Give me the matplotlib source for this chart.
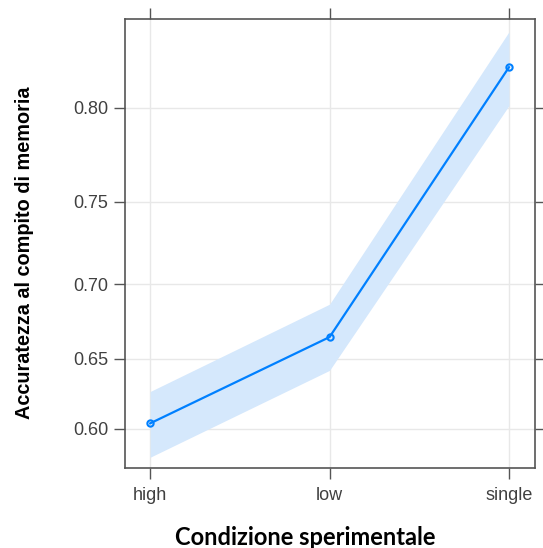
import matplotlib
matplotlib.use("Agg")
import matplotlib.pyplot as plt
from matplotlib.ticker import FixedLocator, FixedFormatter, NullLocator

conditions = ["high", "low", "single"]
accuracy = [0.604, 0.665, 0.819]
lower = [0.579, 0.642, 0.801]
upper = [0.627, 0.687, 0.8345]
yticks = [0.60, 0.65, 0.70, 0.75, 0.80]
ytick_labels = ["0.60", "0.65", "0.70", "0.75", "0.80"]

line_col = "#0080ff"
frame_col = "#555555"
text_col = "#404040"

fig = plt.figure(figsize=(5.43, 5.48), dpi=100)
ax = fig.add_axes([0.2302, 0.146, 0.7551, 0.8193])

x = list(range(len(conditions)))
ax.fill_between(x, lower, upper, color="#d5e8fc", linewidth=0, zorder=1)
ax.plot(x, accuracy, color=line_col, lw=1.6, marker="o", ms=4.5, mfc="none",
        mec=line_col, mew=1.5, zorder=3)

ax.set_yscale("logit")
ax.set_ylim(0.571, 0.8398)
ax.set_xlim(-0.14, 2.145)

ax.yaxis.set_major_locator(FixedLocator(yticks))
ax.yaxis.set_major_formatter(FixedFormatter(ytick_labels))
ax.yaxis.set_minor_locator(NullLocator())
ax.set_xticks(x)
ax.set_xticklabels(conditions)

ax.grid(True, color="#e8e8e8", lw=1, zorder=0)
ax.set_axisbelow(True)

for s in ax.spines.values():
    s.set_color(frame_col)
    s.set_linewidth(1.2)

ax.tick_params(axis="both", direction="out", length=8, width=1, color=frame_col,
               labelsize=13, labelcolor=text_col, top=True, right=True,
               labeltop=False, labelright=False, pad=4)
ax.tick_params(axis="x", pad=6)
for lab in ax.get_xticklabels() + ax.get_yticklabels():
    lab.set_family("Liberation Sans")

fig.text(0.046, 0.538, "Accuratezza al compito di memoria", rotation=90,
         ha="center", va="center", fontsize=14.3, fontweight="bold",
         family="Liberation Sans", color="black")
fig.text(0.562, 0.02, "Condizione sperimentale", ha="center", va="center",
         fontsize=17, fontweight="bold", family="Lato", color="black")

fig.savefig("out.png", dpi=100)
